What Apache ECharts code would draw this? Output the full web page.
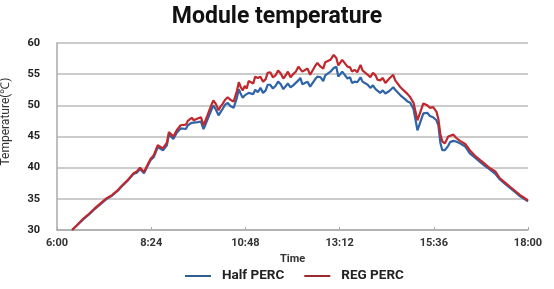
<!DOCTYPE html>
<html>
<head>
<meta charset="utf-8">
<script src="https://cdn.jsdelivr.net/npm/echarts@6/dist/echarts.min.js"></script>
<style>html,body{margin:0;padding:0;background:#fff}#c{width:554px;height:289px}</style>
</head>
<body>
<div id="c"></div>
<script>
// time in minutes since midnight
var times = [383,391,400,409,418,427,436,444,453,461,468,477,482,487,493,499,503,508,514,522,528,531,538,543,549,
  557,560,563,566,569,575,580,584,587,590,595,599,603,607,610,613,617,621,625,630,635,638,641,644,647,
  650,653,656,660,663,667,671,675,679,682,686,690,694,698,702,706,709,713,717,721,725,729,732,735,738,743,747,750,754,758,
  763,767,770,773,778,783,787,790,793,796,799,804,808,811,815,819,824,827,830,835,839,843,847,850,854,858,862,868,874,877,
  880,885,888,892,896,900,
  905,911,915,920,926,930,935,940,943,946,949,953,958,961,966,970,976,984,991,999,1007,1014,1022,1030,1037,1045,1053,1060,1068,1074,1080];
var regPerc = [30.0,30.8,31.8,32.6,33.5,34.3,35.1,35.6,36.4,37.3,38.0,39.1,39.4,40.0,39.3,40.6,41.4,42.0,43.6,43.1,44.0,45.7,45.0,46.0,46.8,
  46.9,47.5,47.2,48.0,47.6,47.9,48.1,46.8,47.6,48.4,49.8,50.8,50.2,49.2,49.8,50.2,50.9,51.3,50.9,50.6,52.3,53.7,52.9,52.4,53.1,
  52.7,53.9,53.6,53.5,54.6,54.4,54.6,53.8,54.2,55.2,55.3,54.5,54.8,55.6,55.1,54.3,54.7,55.4,54.5,55.0,
  55.4,56.2,56.5,55.4,55.6,55.9,54.9,55.2,56.2,56.8,56.2,55.9,56.9,56.6,57.3,58.1,57.6,56.4,56.6,57.3,
  56.9,56.2,56.1,55.4,55.7,55.3,56.5,55.6,55.8,54.9,54.5,55.2,54.8,54.1,54.0,54.4,53.6,54.3,54.9,54.0,
  53.8,52.9,53.2,52.2,51.8,51.3,
  50.4,47.6,48.8,50.3,50.0,49.6,49.7,49.0,47.8,45.4,44.2,43.9,45.0,45.2,45.3,44.8,44.3,43.8,42.8,41.9,
  41.2,40.6,39.9,39.4,38.3,37.6,36.9,36.3,35.6,35.2,34.7];
var halfPerc = [30.0,30.8,31.7,32.5,33.4,34.2,35.0,35.5,36.3,37.2,37.9,39.0,39.2,39.8,39.1,40.4,41.2,41.7,43.3,42.8,43.6,45.3,44.6,45.6,46.3,
  46.2,46.8,46.6,47.2,46.9,47.3,47.4,46.2,46.9,47.7,49.0,50.0,49.3,48.4,48.9,49.4,50.1,50.4,49.9,49.6,51.2,52.6,51.8,51.2,51.6,
  51.3,52.0,51.9,51.8,52.5,52.1,52.8,52.0,52.4,53.3,53.3,52.7,53.1,53.8,53.4,52.6,52.8,53.5,52.9,53.2,
  53.6,54.0,54.4,53.4,53.5,53.8,53.0,53.3,54.1,54.6,54.5,53.9,54.8,54.5,55.4,56.0,56.2,54.6,54.8,55.4,
  55.0,54.3,54.5,53.6,53.8,53.7,54.5,53.8,54.0,53.3,52.8,53.2,52.6,52.3,52.0,52.4,51.9,52.3,52.9,52.5,
  52.2,51.6,51.4,51.0,50.6,50.4,
  49.4,46.0,47.2,48.7,48.8,48.3,48.1,47.6,46.8,44.0,42.8,42.8,43.5,44.1,44.3,44.2,43.9,43.4,42.3,41.6,
  40.9,40.3,39.7,39.0,38.1,37.4,36.7,36.1,35.4,35.0,34.6];
var yTicks = {min: 30, max: 60, step: 5};
var xTicks = {min: 360, max: 1080, step: 144};

function pair(arr){ return times.map(function(t,i){ return [t, arr[i]]; }); }
function fmt(v){ var h = Math.floor(v/60), m = Math.round(v - h*60); return h + ':' + (m<10?'0':'') + m; }

var chart = echarts.init(document.getElementById('c'), null, {renderer:'canvas'});
chart.setOption({
  animation: false,
  backgroundColor: '#fff',
  title: {
    text: 'Module temperature', left: 'center', top: 1,
    textStyle: {fontFamily: 'Roboto', fontWeight: 'bold', fontSize: 23, color: '#111'}
  },
  grid: {left: 57, right: 26, top: 43, bottom: 59, outerBoundsMode: 'none', containLabel: false},
  legend: {
    bottom: 1, left: 180, itemWidth: 26, itemHeight: 2, itemGap: 20,
    icon: 'rect',
    textStyle: {fontFamily: 'Roboto', fontWeight: 'bold', fontSize: 13.5, color: '#222', padding: [0,0,0,6]},
    data: ['Half PERC', 'REG PERC']
  },
  xAxis: {
    type: 'value', min: xTicks.min, max: xTicks.max, interval: xTicks.step,
    name: 'Time', nameLocation: 'middle', nameGap: 22,
    nameTextStyle: {fontFamily: 'Roboto', fontWeight: 'bold', fontSize: 11, color: '#333'},
    axisLine: {lineStyle: {color: '#aaa', width: 1.5}},
    axisTick: {show: true, inside: true, length: 3, lineStyle: {color: '#aaa'}},
    axisLabel: {formatter: fmt, margin: 8, fontFamily: 'Roboto', fontWeight: 'bold', fontSize: 11, color: '#333'},
    splitLine: {show: false}
  },
  yAxis: {
    type: 'value', min: yTicks.min, max: yTicks.max, interval: yTicks.step,
    name: 'Temperature(\u2103)', nameLocation: 'middle', nameGap: 45, nameRotate: 90,
    nameTextStyle: {fontFamily: 'Roboto', fontSize: 12, color: '#333', padding: [0,0,0,30]},
    axisLine: {show: true, lineStyle: {color: '#aaa', width: 1.5}},
    axisTick: {show: false},
    axisLabel: {margin: 17, fontFamily: 'Roboto', fontWeight: 'bold', fontSize: 11, color: '#222'},
    splitLine: {lineStyle: {color: '#bbb', width: 1.5}}
  },
  series: [
    {name: 'Half PERC', type: 'line', data: pair(halfPerc), showSymbol: false,
     lineStyle: {color: '#2f64a8', width: 2.2}, itemStyle: {color: '#2f5f8f'}},
    {name: 'REG PERC', type: 'line', data: pair(regPerc), showSymbol: false,
     lineStyle: {color: '#c0282d', width: 2.2}, itemStyle: {color: '#9a2a30'}}
  ]
});
</script>
</body>
</html>
